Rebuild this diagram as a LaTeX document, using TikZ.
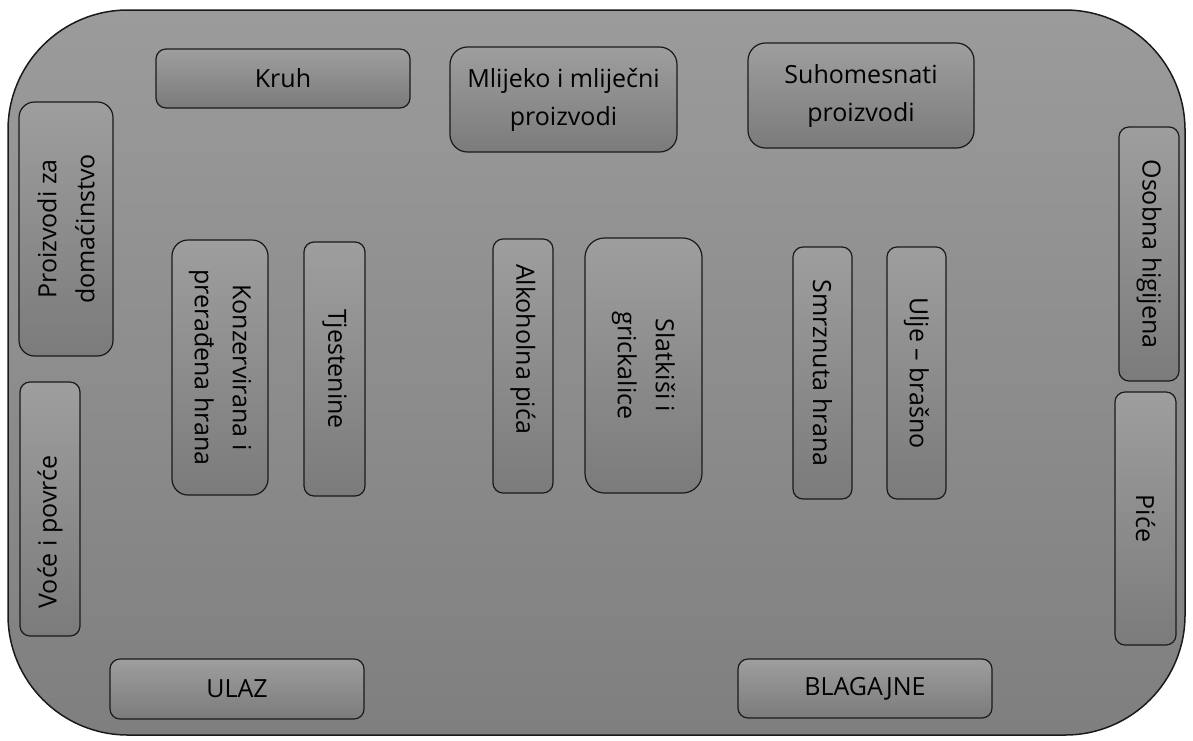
\documentclass[tikz,border=0pt]{standalone}
\usepackage{fontspec}
\setmainfont{Open Sans}
\definecolor{outerlight}{HTML}{9B9B9B}
\definecolor{outerdark}{HTML}{7F7F7F}
\definecolor{boxlight}{HTML}{9E9E9E}
\definecolor{boxdark}{HTML}{7B7B7B}
\definecolor{edgecol}{HTML}{1A1A1A}
\begin{document}
\begin{tikzpicture}[x=0.5pt,y=-0.5pt,
  shelf/.style={draw=edgecol, line width=0.6pt, top color=boxlight, bottom color=boxdark,
    align=center, inner sep=0pt, text=black,
    font=\fontsize{12.5}{19}\selectfont},
  hshelf/.style={shelf, rounded corners=5pt},
  vup/.style={shelf, rotate=90},
  vdown/.style={shelf, rotate=-90},
]
\useasboundingbox (0,0) rectangle (1193,740);
% store outline
\draw[draw=edgecol, line width=0.75pt, top color=outerlight, bottom color=outerdark, rounded corners=60pt]
  (8,10) rectangle (1185,735);

% horizontal shelves
\node[hshelf, minimum width=127pt, minimum height=29.5pt] (kruh) at (283,78.5) {Kruh};
\node[shelf, rounded corners=8.75pt, minimum width=113.5pt, minimum height=52.5pt] (mlijeko) at (563.5,99.5) {Mlijeko i mliječni\\proizvodi};
\node[shelf, rounded corners=8.75pt, minimum width=113pt, minimum height=52.5pt] (suho) at (861,95.5) {Suhomesnati\\proizvodi};
\node[hshelf, minimum width=127pt, minimum height=30pt] (ulaz) at (237,689) {ULAZ};
\node[hshelf, minimum width=127pt, minimum height=29.5pt] (blagajne) at (865,688.5) {BLAGAJNE};

% left wall (text reads bottom to top)
\node[vup, rounded corners=7.8pt, minimum width=127pt, minimum height=47pt] (domacinstvo) at (66,229) {Proizvodi za\\domaćinstvo};
\node[vup, rounded corners=5pt, minimum width=127pt, minimum height=30pt] (voce) at (50,509) {Voće i povrće\hspace*{23pt}};

% inner aisles (text reads top to bottom)
\node[vdown, rounded corners=8pt, minimum width=127.5pt, minimum height=48pt] (konzerve) at (220,367.5) {Konzervirana i\\prerađena hrana};
\node[vdown, rounded corners=5pt, minimum width=127pt, minimum height=30.5pt] (tjestenine) at (334.5,369) {Tjestenine};
\node[vdown, rounded corners=5pt, minimum width=127pt, minimum height=30pt] (alkohol) at (523,366) {Alkoholna pića\hspace*{17pt}};
\node[vdown, rounded corners=9.75pt, minimum width=127.5pt, minimum height=58.5pt] (slatkisi) at (643.5,365.5) {Slatkiši i\\grickalice};
\node[vdown, rounded corners=5pt, minimum width=126pt, minimum height=29.5pt] (smrznuta) at (822.5,373) {Smrznuta hrana};
\node[vdown, rounded corners=5pt, minimum width=126pt, minimum height=29.5pt] (ulje) at (916.5,373) {Ulje – brašno};

% right wall
\node[vdown, rounded corners=5pt, minimum width=127pt, minimum height=30pt] (higijena) at (1149,254) {Osobna higijena};
\node[vdown, rounded corners=5pt, minimum width=126.5pt, minimum height=30.5pt] (pice) at (1145.5,518.5) {Piće};
\end{tikzpicture}
\end{document}
